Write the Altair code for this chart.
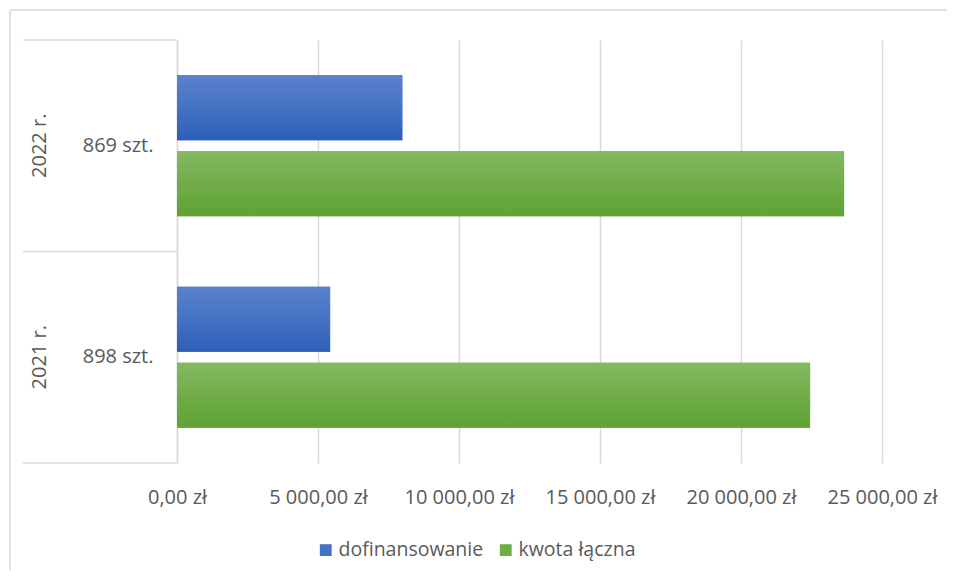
import altair as alt
import pandas as pd

# ---- data ----
lata = ["2022 r.", "2021 r."]
sztuki = ["869 szt.", "898 szt."]
dofinansowanie = [7990, 5430]
kwota_laczna = [23655, 22450]
serie = ["dofinansowanie", "kwota łączna"]
x_ticks = [0, 5000, 10000, 15000, 20000, 25000]

rows = []
for r, s, d, k in zip(lata, sztuki, dofinansowanie, kwota_laczna):
    rows.append({"rok": r, "szt": s, "seria": serie[0], "wartosc": d})
    rows.append({"rok": r, "szt": s, "seria": serie[1], "wartosc": k})
df = pd.DataFrame(rows)
labels_df = pd.DataFrame({"rok": lata, "szt": sztuki})

FONT = "Open Sans"
GRAY_TXT = "#595959"
LINE = "#d9d9d9"
W, H = 705, 423

grad_blue = alt.LinearGradient(
    gradient="linear", x1=0, x2=0, y1=0, y2=1,
    stops=[alt.GradientStop(color="#5b81cd", offset=0),
           alt.GradientStop(color="#4472c4", offset=0.5),
           alt.GradientStop(color="#2e5eb8", offset=1)])
grad_green = alt.LinearGradient(
    gradient="linear", x1=0, x2=0, y1=0, y2=1,
    stops=[alt.GradientStop(color="#83b964", offset=0),
           alt.GradientStop(color="#70ad47", offset=0.5),
           alt.GradientStop(color="#61a135", offset=1)])

y_enc = alt.Y("szt:N", sort=sztuki, title=None,
              scale=alt.Scale(paddingInner=0, paddingOuter=0),
              axis=alt.Axis(ticks=False, domain=True, domainColor=LINE, domainWidth=1.5,
                            labelPadding=24, labelFont=FONT, labelFontSize=20,
                            labelColor=GRAY_TXT, grid=False))
yoff_enc = alt.YOffset("seria:N", sort=serie,
                       scale=alt.Scale(paddingInner=0.145, paddingOuter=0.464))
x_enc = alt.X("wartosc:Q", title=None,
              scale=alt.Scale(domain=[0, 25000], nice=False),
              axis=alt.Axis(values=x_ticks, grid=True, gridColor=LINE, gridWidth=1.5,
                            domain=False, ticks=False, labelPadding=24,
                            labelOverlap=False, labelFlush=False, labelBound=False,
                            labelFont=FONT, labelFontSize=20, labelColor=GRAY_TXT,
                            labelExpr="replace(replace(format(datum.value, ',.2f'), ',', ' '), '.', ',') + ' zł'"))

base = alt.Chart(df).mark_bar().encode(
    x=x_enc, y=y_enc, yOffset=yoff_enc,
    color=alt.Color("seria:N", sort=serie,
                    scale=alt.Scale(domain=serie, range=["#4472c4", "#70ad47"]),
                    legend=alt.Legend(title=None, orient="none", legendX=139, legendY=500,
                                      direction="horizontal", symbolType="square",
                                      symbolSize=140, symbolStrokeWidth=0,
                                      labelFont=FONT, labelFontSize=19.5, labelColor=GRAY_TXT,
                                      labelOffset=3, columnPadding=12)),
)

blue = alt.Chart(df).transform_filter(alt.datum.seria == serie[0]).mark_bar(fill=grad_blue).encode(
    x="wartosc:Q", y=alt.Y("szt:N", sort=sztuki), yOffset=alt.YOffset("seria:N", sort=serie))
green = alt.Chart(df).transform_filter(alt.datum.seria == serie[1]).mark_bar(fill=grad_green).encode(
    x="wartosc:Q", y=alt.Y("szt:N", sort=sztuki), yOffset=alt.YOffset("seria:N", sort=serie))

years = alt.Chart(labels_df).mark_text(
    angle=270, align="center", baseline="middle", font=FONT, fontSize=20, color=GRAY_TXT
).encode(y=alt.Y("szt:N", sort=sztuki), x=alt.value(-137), text="rok:N")

one = pd.DataFrame({"a": [0]})
rule = lambda **kw: alt.Chart(one).mark_rule(color=LINE, strokeWidth=1.5).encode(**kw)
lines = [
    rule(x=alt.value(-154), x2=alt.value(0), y=alt.value(0)),
    rule(x=alt.value(-154), x2=alt.value(0), y=alt.value(H / 2)),
    rule(x=alt.value(-154), x2=alt.value(0), y=alt.value(H)),
    rule(x=alt.value(-167), x2=alt.value(770), y=alt.value(-30)),
    rule(x=alt.value(-167), y=alt.value(-30), y2=alt.value(530)),
]

chart = alt.layer(base, blue, green, years, *lines).properties(
    width=W, height=H,
    autosize=alt.AutoSizeParams(type="none"),
    padding={"left": 169, "top": 32, "right": 65, "bottom": 108},
    background="white",
).configure_view(stroke=None)

chart.save("out.html", embed_options={"renderer": "svg", "actions": False})
